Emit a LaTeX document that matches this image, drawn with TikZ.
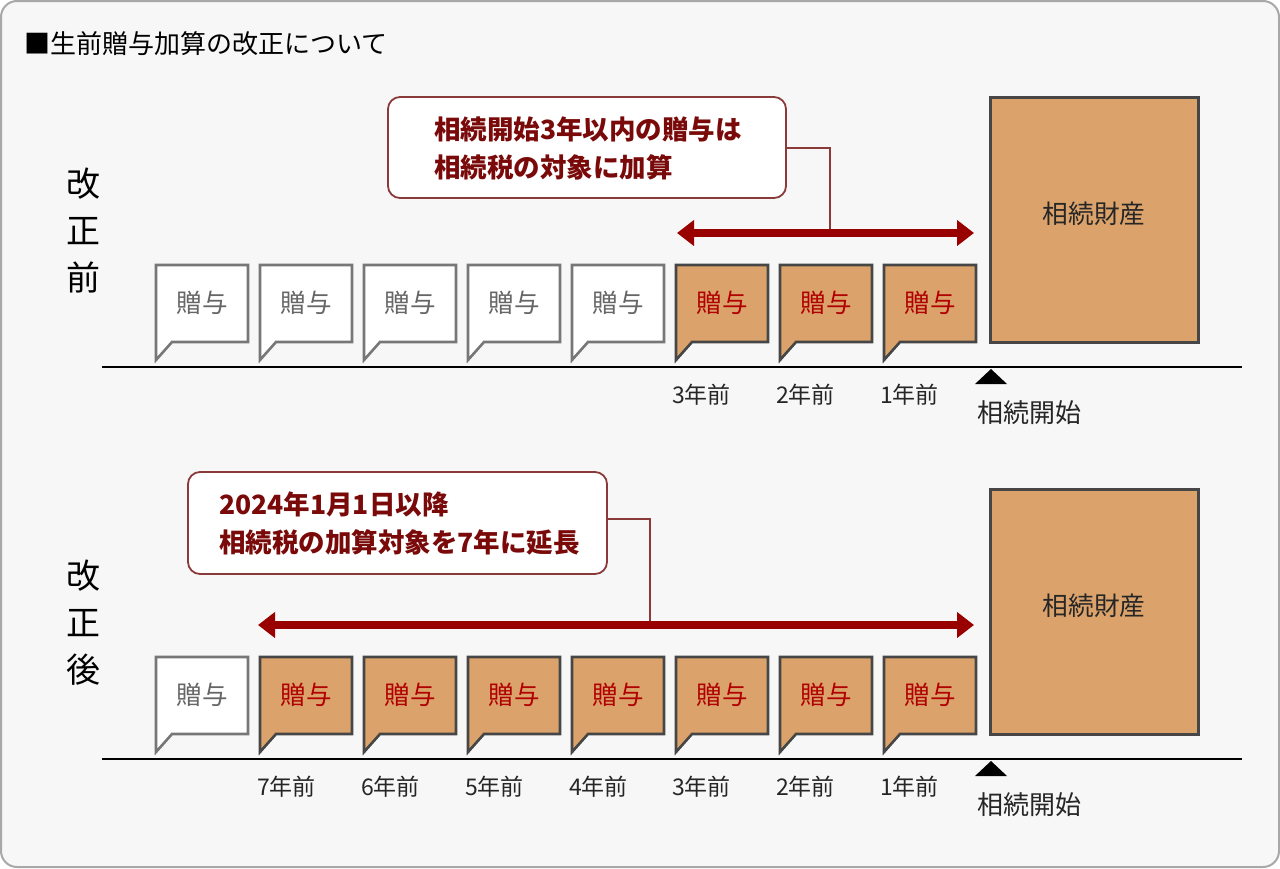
\documentclass[tikz,border=0pt]{standalone}
\usepackage{fontspec}
\setmainfont{Noto Sans CJK JP}
\usetikzlibrary{arrows.meta}
\definecolor{bgc}{HTML}{F7F7F7}
\definecolor{framec}{HTML}{A8A8A8}
\definecolor{tanc}{HTML}{DBA36B}
\definecolor{darkb}{HTML}{464646}
\definecolor{grayb}{HTML}{777777}
\definecolor{grayt}{HTML}{666666}
\definecolor{redt}{HTML}{B00000}
\definecolor{callb}{HTML}{8B3A3A}
\definecolor{callt}{HTML}{7A0A0A}
\definecolor{arrc}{HTML}{990000}
\tikzset{
  plain/.style={draw=grayb,line width=2.6pt,fill=white,line join=miter},
  hi/.style={draw=darkb,line width=2.6pt,fill=tanc,line join=miter},
  plain text/.style={text=grayt,font=\fontsize{25.5}{25.5}\selectfont,inner sep=0pt},
  hi text/.style={text=redt,font=\fontsize{25.5}{25.5}\selectfont,inner sep=0pt},
  bigbox/.style={draw=darkb,line width=3pt,fill=tanc},
  bigtext/.style={font=\fontsize{25.7}{25.7}\selectfont,text=black!85,inner sep=0pt},
  callout/.style={draw=callb,line width=1.8pt,fill=white,rounded corners=12pt},
  calltext/.style={text=callt,font=\bfseries\fontsize{26.5}{38}\selectfont,align=left,inner sep=0pt,anchor=west},
  leader/.style={draw=callb,line width=1.6pt},
  span/.style={draw=arrc,line width=8pt,{Triangle[length=17pt,width=25pt]}-{Triangle[length=17pt,width=25pt]}},
  timeline/.style={draw=black,line width=2.6pt},
  yearlbl/.style={font=\fontsize{23}{23}\selectfont,text=black!85,inner sep=0pt,anchor=west},
  startlbl/.style={font=\fontsize{26}{26}\selectfont,text=black!85,inner sep=0pt,anchor=west},
  sidelbl/.style={font=\fontsize{34}{47}\selectfont,align=center,inner sep=0pt,text=black},
}
\newcommand\gbox[4]{%
  \draw[#3] (#1,#2) -- ++(92,0) -- ++(0,77) -- ++(-76,0) -- ++(-16,18) -- cycle;
  \node[#3 text] (#4) at (#1+46,#2+38) {贈与};
}
\begin{document}
\begin{tikzpicture}[x=1pt,y=-1pt]
\useasboundingbox (0,0) rectangle (1280,868);
\draw[draw=framec,line width=2pt,fill=bgc,rounded corners=16pt] (1,1) rectangle (1279,867);
\node[font=\fontsize{26}{26}\selectfont,anchor=west,inner sep=0pt] (title) at (24,44) {■生前贈与加算の改正について};

% ---------- top section ----------
\node[sidelbl] (side1) at (83,231) {改\\正\\前};
\draw[callout] (388,97) rectangle (786,198);
\node[calltext] (call1) at (434,148) {相続開始3年以内の贈与は\\相続税の対象に加算};
\coordinate (c1a) at (786,148);
\coordinate (c1b) at (830,148);
\coordinate (c1c) at (830,233);
\draw[leader] (c1a) -- (c1b) -- (c1c);
\coordinate (a1l) at (677,233);
\coordinate (a1r) at (974,233);
\draw[span] (a1l) -- (a1r);
\draw[bigbox] (990,97) rectangle (1198,342);
\node[bigtext] (prop1) at (1094,214) {相続財産};
\gbox{156}{265}{plain}{t1}
\gbox{260}{265}{plain}{t2}
\gbox{364}{265}{plain}{t3}
\gbox{468}{265}{plain}{t4}
\gbox{572}{265}{plain}{t5}
\gbox{676}{265}{hi}{t6}
\gbox{780}{265}{hi}{t7}
\gbox{884}{265}{hi}{t8}
\coordinate (l1a) at (102,367);
\coordinate (l1b) at (1242,367);
\draw[timeline] (l1a) -- (l1b);
\node[yearlbl] (y1a) at (672,395) {3年前};
\node[yearlbl] (y1b) at (776,395) {2年前};
\node[yearlbl] (y1c) at (880,395) {1年前};
\fill[black] (975,384) -- (1007,384) -- (991,369) -- cycle;
\node[startlbl] (s1) at (977,413) {相続開始};

% ---------- bottom section ----------
\node[sidelbl] (side2) at (83,623) {改\\正\\後};
\draw[callout] (188,472) rectangle (607,574);
\node[calltext] (call2) at (219,523) {2024年1月1日以降\\相続税の加算対象を7年に延長};
\coordinate (c2a) at (607,519);
\coordinate (c2b) at (650,519);
\coordinate (c2c) at (650,625);
\draw[leader] (c2a) -- (c2b) -- (c2c);
\coordinate (a2l) at (258,625);
\coordinate (a2r) at (974,625);
\draw[span] (a2l) -- (a2r);
\draw[bigbox] (990,489) rectangle (1198,734);
\node[bigtext] (prop2) at (1094,606) {相続財産};
\gbox{156}{657}{plain}{b1}
\gbox{260}{657}{hi}{b2}
\gbox{364}{657}{hi}{b3}
\gbox{468}{657}{hi}{b4}
\gbox{572}{657}{hi}{b5}
\gbox{676}{657}{hi}{b6}
\gbox{780}{657}{hi}{b7}
\gbox{884}{657}{hi}{b8}
\coordinate (l2a) at (102,759);
\coordinate (l2b) at (1242,759);
\draw[timeline] (l2a) -- (l2b);
\node[yearlbl] (y2a) at (257,787) {7年前};
\node[yearlbl] (y2b) at (361,787) {6年前};
\node[yearlbl] (y2c) at (465,787) {5年前};
\node[yearlbl] (y2d) at (569,787) {4年前};
\node[yearlbl] (y2e) at (672,787) {3年前};
\node[yearlbl] (y2f) at (776,787) {2年前};
\node[yearlbl] (y2g) at (880,787) {1年前};
\fill[black] (975,776) -- (1007,776) -- (991,761) -- cycle;
\node[startlbl] (s2) at (977,805) {相続開始};
\end{tikzpicture}
\end{document}
